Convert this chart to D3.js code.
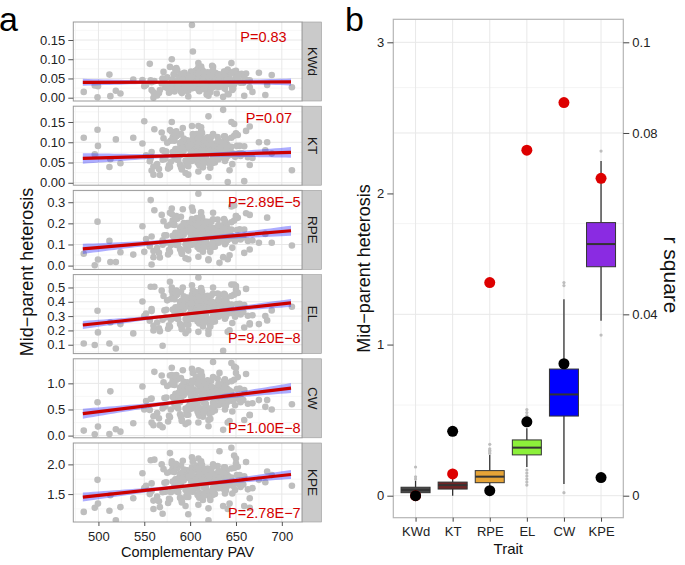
<!DOCTYPE html>
<html><head><meta charset="utf-8">
<script src="https://cdn.jsdelivr.net/npm/d3@7"></script>
<style>body{margin:0;background:#fff}text{font-family:"Liberation Sans",Arial,Helvetica,sans-serif}</style>
</head><body><svg id="c" width="685" height="565"></svg>
<script>
// ---------------- DATA ----------------
const traits = ["KWd","KT","RPE","EL","CW","KPE"];
const pLabels = ["P=0.83","P=0.07","P=2.89E\u22125","P=9.20E\u22128","P=1.00E\u22128","P=2.78E\u22127"];
const pLabelX = [680,686,681,681,681,681];
const pLabelY = [0.146,0.147,0.278,0.115,0.05,1.10];
const yDomains = [[-0.0086,0.1968],[-0.006,0.189],[-0.018,0.356],[0.038,0.590],[-0.042,1.47],[1.03,2.36]];
const yTicks = [[0,0.05,0.1,0.15],[0,0.05,0.1,0.15],[0,0.1,0.2,0.3],[0.1,0.2,0.3,0.4,0.5],[0,0.5,1.0],[1.5,2.0]];
const yTickFmt = [".2f",".2f",".1f",".1f",".1f",".1f"];
const xTicksA = [500,550,600,650,700];

// Complementary PAV (shared by all traits)
const pavX = [484,496,499,499.5,512,513,519,524,538,550,557,558,570,
 711,675,684,689,682,665,
 578,602,603,609,620,625,632,636,641,645,659,598,580,650,560,
 612,585,640,598,571,655,603,627,590,618,
 566,645,608,579,633,596,661,621,587,604,
 552,637,614,593,668,575,626,609,582,649,
 600,619,561,642,589,631,606,573,652,615,
 595,628,558,611,638,584,602,663,623,577,
 597,646,610,569,635,591,617,656,581,624,
 605,548,643,599,629,586,613,659,572,620,
 594,639,607,564,650,588,625,601,578,634,
 616,556,647,592,622,583,611,665,574,630,
 603,641,589,567,619,597,653,608,580,636,
 614,560,644,593,626,585,658,606,576,632,
 600,648,618,570,637,590,621,654,583,612,
 608,592,631,615,584,622,599,641,611,588,
 626,603,617,579,636,595,613,648,606,590,
 620,633,598,611,585,644,616,602,628,594,
 609,623,581,637,600,614,591,651,607,625,
 596,618,640,604,587,629,612,599,634,583,
 621,610,594,645,605,627,589,616,638,601,
 597,630,613,586,643,608,622,593,619,635,
 603,588,626,612,598,647,615,591,632,606,
 617,600,639,593,624,609,582,636,614,596,
 628,604,619,589,642,611,599,625,607,634,
 592,615,603,637,621,587,610,646,598,623,
 613,595,631,606,584,640,617,601,627,609];

const hetKWd = [.015,.032,.001,.030,.060,.004,.018,.011,.047,.030,.045,.020,.050,
 .027,.065,.033,.059,.007,.027,
 .080,.189,.120,.090,.005,.080,.060,.002,.010,.090,.005,.003,.100,.070,.000,
 .042,.031,.055,.018,.067,.039,.025,.048,.061,.034,
 .012,.044,.072,.029,.051,.037,.063,.021,.046,.058,
 .033,.026,.069,.041,.015,.053,.036,.079,.024,.047,
 .060,.030,.043,.009,.056,.038,.070,.027,.050,.035,
 .019,.064,.040,.052,.023,.075,.032,.045,.057,.013,
 .049,.028,.066,.037,.054,.017,.043,.062,.034,.083,
 .026,.046,.058,.039,.011,.071,.031,.053,.044,.022,
 .065,.036,.048,.006,.059,.041,.027,.068,.033,.052,
 .040,.088,.024,.055,.037,.016,.063,.045,.029,.050,
 .034,.073,.042,.020,.057,.038,.061,.025,.047,.032,
 .054,.014,.066,.043,.030,.077,.039,.051,.023,.044,
 .060,.035,.008,.049,.068,.028,.056,.041,.019,.064,
 .038,.052,.027,.061,.044,.019,.057,.035,.071,.048,
 .030,.064,.041,.023,.055,.046,.033,.068,.039,.016,
 .059,.043,.028,.050,.074,.036,.062,.025,.047,.054,
 .021,.066,.040,.031,.058,.045,.012,.053,.037,.070,
 .049,.026,.063,.042,.034,.056,.081,.029,.046,.060,
 .039,.017,.051,.065,.032,.044,.055,.024,.067,.041,
 .053,.036,.072,.028,.048,.060,.014,.043,.057,.035,
 .062,.045,.030,.076,.050,.038,.022,.058,.047,.069,
 .033,.054,.041,.064,.027,.049,.061,.036,.044,.018,
 .056,.031,.066,.046,.039,.059,.025,.052,.071,.037,
 .048,.063,.029,.055,.042,.034,.067,.020,.050,.057,
 .043,.026,.061,.038,.073,.047,.032,.054,.040,.065];
const hetKT = [.111,.070,.131,.091,.039,.058,.107,.048,.111,.152,.060,.030,.080,
 .031,.100,.100,.072,.080,.139,
 .130,.100,.120,.140,.164,.120,.100,.180,.002,.150,.004,.020,.150,.120,.020,
 .072,.058,.095,.041,.110,.066,.083,.050,.120,.077,
 .034,.089,.062,.104,.070,.047,.128,.081,.056,.093,
 .068,.115,.038,.085,.061,.099,.074,.028,.108,.064,
 .087,.052,.132,.071,.045,.096,.079,.059,.118,.067,
 .024,.091,.076,.106,.054,.083,.140,.063,.088,.043,
 .101,.069,.057,.124,.080,.036,.093,.073,.112,.048,
 .065,.097,.031,.084,.071,.117,.055,.090,.078,.014,
 .102,.060,.086,.046,.122,.074,.066,.094,.039,.081,
 .109,.053,.070,.135,.087,.062,.099,.044,.077,.113,
 .058,.092,.068,.019,.084,.105,.073,.050,.126,.063,
 .089,.040,.079,.098,.061,.115,.071,.087,.035,.094,
 .067,.145,.082,.057,.103,.075,.048,.091,.069,.111,
 .074,.092,.058,.105,.081,.047,.099,.066,.121,.085,
 .061,.110,.078,.052,.096,.088,.069,.116,.073,.039,
 .102,.083,.057,.090,.127,.071,.107,.054,.087,.094,
 .049,.113,.076,.063,.100,.086,.033,.091,.068,.119,
 .089,.056,.108,.080,.065,.097,.137,.060,.084,.104,
 .075,.043,.093,.111,.064,.082,.098,.051,.115,.077,
 .094,.070,.123,.059,.088,.103,.037,.079,.099,.067,
 .106,.084,.062,.129,.091,.072,.048,.101,.086,.117,
 .064,.095,.078,.109,.057,.090,.105,.069,.082,.044,
 .097,.061,.112,.085,.073,.101,.053,.093,.120,.071,
 .087,.107,.060,.096,.079,.066,.114,.046,.089,.098,
 .080,.055,.104,.073,.124,.086,.063,.094,.076,.110];
const hetRPE = [.056,.002,.208,.029,.117,.017,.017,.063,.052,.065,.310,.005,.120,
 .095,.108,.227,.108,.150,.240,
 .250,.220,.260,.340,.030,.250,.013,.040,.030,.280,.060,.030,.270,.235,.040,
 .135,.098,.182,.071,.210,.124,.157,.089,.231,.142,
 .060,.171,.113,.195,.130,.081,.248,.150,.104,.176,
 .126,.220,.066,.161,.119,.189,.140,.042,.204,.115,
 .166,.093,.262,.132,.078,.184,.147,.108,.226,.121,
 .035,.175,.138,.199,.101,.155,.275,.117,.168,.074,
 .192,.128,.106,.240,.149,.056,.178,.134,.215,.087,
 .122,.186,.049,.160,.131,.222,.096,.171,.144,.025,
 .197,.110,.163,.083,.235,.139,.120,.181,.064,.152,
 .208,.092,.129,.267,.165,.112,.190,.076,.143,.218,
 .103,.174,.125,.038,.158,.201,.136,.088,.244,.116,
 .169,.069,.148,.187,.109,.224,.133,.164,.053,.179,
 .123,.285,.154,.099,.196,.141,.085,.172,.127,.212,
 .138,.172,.108,.193,.150,.085,.184,.121,.222,.158,
 .112,.203,.145,.096,.178,.162,.127,.213,.135,.070,
 .188,.154,.104,.166,.234,.131,.198,.099,.160,.175,
 .089,.208,.141,.116,.183,.159,.058,.168,.125,.219,
 .164,.103,.199,.148,.119,.179,.252,.110,.156,.192,
 .139,.078,.171,.205,.118,.151,.181,.094,.211,.143,
 .173,.129,.227,.107,.162,.190,.065,.146,.182,.123,
 .196,.155,.114,.238,.168,.133,.087,.186,.159,.216,
 .118,.175,.144,.201,.105,.165,.194,.127,.152,.080,
 .179,.113,.207,.157,.134,.187,.097,.170,.225,.130,
 .161,.198,.111,.177,.146,.122,.211,.084,.163,.181,
 .148,.101,.192,.136,.230,.158,.116,.174,.140,.203];
const hetEL = [.109,.098,.337,.186,.109,.255,.074,.244,.179,.300,.505,.350,.093,
 .365,.244,.270,.340,.300,.250,
 .540,.450,.480,.570,.200,.500,.450,.058,.190,.520,.220,.200,.500,.510,.200,
 .330,.285,.395,.240,.440,.312,.358,.262,.470,.337,
 .215,.380,.300,.420,.325,.250,.490,.348,.278,.388,
 .318,.455,.228,.368,.306,.410,.342,.190,.432,.296,
 .372,.270,.505,.328,.245,.400,.352,.290,.462,.310,
 .180,.384,.335,.425,.282,.362,.515,.302,.376,.235,
 .415,.322,.288,.478,.346,.208,.390,.333,.448,.258,
 .316,.402,.200,.366,.327,.452,.276,.378,.340,.175,
 .428,.298,.370,.255,.485,.338,.314,.396,.225,.355,
 .438,.268,.324,.500,.374,.292,.412,.242,.344,.458,
 .280,.382,.320,.195,.360,.430,.332,.264,.475,.304,
 .370,.232,.350,.408,.287,.445,.328,.364,.212,.392,
 .318,.520,.356,.274,.418,.341,.248,.386,.322,.444,
 .340,.388,.296,.420,.355,.262,.405,.318,.462,.368,
 .302,.435,.350,.275,.398,.374,.322,.450,.334,.235,
 .412,.360,.290,.382,.478,.328,.428,.282,.370,.392,
 .258,.444,.346,.308,.403,.372,.212,.385,.320,.458,
 .378,.288,.430,.352,.312,.396,.496,.298,.366,.418,
 .338,.248,.380,.440,.306,.358,.400,.272,.448,.344,
 .386,.326,.470,.292,.372,.415,.228,.348,.402,.316,
 .425,.362,.300,.486,.384,.330,.255,.408,.370,.455,
 .310,.390,.345,.438,.284,.376,.422,.320,.358,.242,
 .395,.304,.442,.366,.332,.410,.276,.380,.466,.326,
 .372,.424,.294,.392,.350,.314,.448,.252,.376,.404,
 .354,.280,.418,.336,.474,.368,.308,.388,.342,.436];
const hetCW = [.096,.025,.637,.172,.032,.847,.121,.076,.236,.500,.700,.248,.159,
 .600,.680,.680,.500,.550,.400,
 1.15,1.05,1.20,1.25,.30,1.41,1.20,.11,.25,1.39,.30,.25,1.30,1.30,.20,
 .70,.55,.90,.40,1.02,.64,.78,.48,1.10,.72,
 .33,.84,.60,.98,.68,.44,1.18,.76,.52,.88,
 .66,1.05,.36,.81,.62,.95,.73,.25,1.00,.58,
 .83,.47,1.22,.69,.41,.92,.75,.56,1.12,.63,
 .22,.86,.71,1.00,.50,.80,1.28,.61,.85,.38,
 .96,.67,.53,1.15,.74,.30,.89,.70,1.06,.45,
 .65,.94,.28,.82,.69,1.08,.51,.87,.72,.18,
 1.01,.57,.84,.43,1.20,.71,.63,.93,.35,.77,
 1.04,.49,.66,1.25,.86,.59,.97,.39,.73,1.09,
 .54,.88,.64,.20,.80,1.02,.70,.46,1.16,.60,
 .85,.37,.75,.99,.56,1.07,.68,.83,.27,.91,
 .65,1.32,.79,.52,.98,.72,.42,.90,.67,1.04,
 .72,.88,.58,.98,.77,.45,.94,.65,1.10,.83,
 .60,1.03,.75,.50,.91,.85,.67,1.07,.70,.36,
 .96,.79,.55,.87,1.16,.68,1.00,.52,.81,.92,
 .42,1.05,.74,.62,.93,.84,.28,.89,.66,1.12,
 .86,.54,1.01,.78,.63,.90,1.22,.57,.80,.97,
 .73,.38,.88,1.04,.61,.79,.92,.48,1.08,.76,
 .89,.69,1.14,.56,.86,.99,.32,.77,.93,.64,
 1.02,.82,.59,1.18,.89,.71,.44,.95,.84,1.09,
 .61,.90,.76,1.03,.53,.87,.98,.67,.80,.40,
 .92,.58,1.06,.83,.70,.96,.50,.88,1.13,.69,
 .85,1.00,.57,.91,.76,.63,1.08,.46,.86,.94,
 .78,.52,.99,.72,1.15,.84,.60,.90,.74,1.03];
const hetKPE = [1.20,1.27,1.74,1.34,1.22,1.48,1.06,1.28,1.43,1.60,2.07,1.55,1.17,
 1.64,1.74,1.88,1.82,1.70,1.27,
 2.19,1.95,2.05,2.10,1.06,2.00,2.22,1.30,1.25,2.28,1.30,1.16,2.05,2.10,1.25,
 1.68,1.55,1.82,1.45,1.92,1.62,1.74,1.50,1.98,1.70,
 1.38,1.78,1.59,1.88,1.66,1.47,2.04,1.72,1.53,1.80,
 1.64,1.95,1.40,1.76,1.60,1.86,1.69,1.32,1.90,1.57,
 1.77,1.49,2.08,1.67,1.44,1.84,1.71,1.54,1.96,1.61,
 1.30,1.79,1.68,1.89,1.51,1.75,2.12,1.58,1.81,1.42,
 1.87,1.65,1.52,2.00,1.70,1.36,1.83,1.67,1.93,1.48,
 1.63,1.85,1.34,1.77,1.66,1.94,1.50,1.80,1.69,1.26,
 1.91,1.56,1.78,1.46,2.02,1.68,1.61,1.84,1.41,1.73,
 1.92,1.50,1.64,2.06,1.79,1.57,1.88,1.43,1.70,1.97,
 1.54,1.81,1.62,1.28,1.76,1.90,1.67,1.49,2.01,1.59,
 1.78,1.39,1.72,1.87,1.55,1.94,1.66,1.79,1.35,1.83,
 1.63,2.15,1.75,1.53,1.89,1.69,1.46,1.82,1.65,1.95,
 1.70,1.80,1.60,1.88,1.74,1.50,1.85,1.64,1.96,1.77,
 1.62,1.91,1.72,1.53,1.83,1.79,1.66,1.94,1.69,1.42,
 1.86,1.76,1.58,1.81,2.00,1.67,1.89,1.55,1.75,1.84,
 1.47,1.92,1.71,1.63,1.85,1.78,1.38,1.82,1.65,1.97,
 1.79,1.57,1.90,1.73,1.62,1.83,2.05,1.59,1.76,1.87,
 1.70,1.44,1.80,1.93,1.61,1.74,1.84,1.52,1.95,1.72,
 1.81,1.68,1.99,1.56,1.78,1.89,1.40,1.73,1.85,1.64,
 1.90,1.77,1.60,2.02,1.80,1.69,1.48,1.86,1.78,1.94,
 1.63,1.82,1.72,1.91,1.55,1.79,1.88,1.66,1.75,1.45,
 1.84,1.61,1.93,1.77,1.68,1.87,1.54,1.81,1.98,1.67,
 1.78,1.90,1.59,1.83,1.73,1.64,1.95,1.51,1.79,1.85,
 1.74,1.57,1.89,1.70,2.01,1.78,1.62,1.82,1.71,1.92];
const hetByTrait = [hetKWd,hetKT,hetRPE,hetEL,hetCW,hetKPE];

// fitted regression line (value at pavFitRange[0], pavFitRange[1]) and CI half-widths
const pavFitRange = [483,710];
const fitStart = [0.040,0.060,0.079,0.238,0.42,1.45];
const fitEnd   = [0.041,0.075,0.165,0.392,0.91,1.83];
const ciEnd    = [0.009,0.013,0.024,0.028,0.095,0.076];
const ciMid    = [0.003,0.004,0.008,0.009,0.030,0.025];

// panel b: box statistics [lower whisker, q1, median, q3, upper whisker]
const boxLow = [0.0,0.0,0.0,0.19,0.077,1.158];
const boxQ1  = [0.02,0.044,0.086,0.27,0.527,1.515];
const boxMed = [0.038,0.07,0.126,0.318,0.67,1.665];
const boxQ3  = [0.056,0.09,0.166,0.369,0.838,1.807];
const boxHigh= [0.10,0.118,0.27,0.446,1.30,2.215];
const boxOutliers = [[0.11,0.125,0.19],[0.13,0.15,0.17],[0.28,0.29,0.30,0.31,0.34],
  [0.07,0.09,0.11,0.13,0.15,0.17,0.47,0.50,0.53,0.55,0.57],[0.02,1.39,1.41],[1.063,2.28]];
const rSqRed   = [0.0,0.0048,0.047,0.0762,0.0867,0.070];
const rSqBlack = [0.0,0.0142,0.0011,0.0163,0.0291,0.004];
const leftTicksB = [0,1,2,3];
const rightTicksB = [0,0.04,0.08,0.1];
const rightMinorB = [0.02,0.06,0.09];
const boxColors = ["#474747","#702424","#e6a437","#8cf03a","#0000ff","#8a2be2"];

// ---------------- DRAW ----------------
const svg = d3.select("#c");
svg.append("rect").attr("width",685).attr("height",565).attr("fill","#fff");
const defs = svg.append("defs");

// ===== Panel a =====
const A = {left:73.3,right:302,top:22,h:79,step:84.2,stripR:321.5};
const xA = d3.scaleLinear().domain([472.6,722]).range([A.left,A.right]);
const xMinor = [];
for (let k=0;k<xTicksA.length+1;k++){ const v = xTicksA[0]-25+50*k; if(v>xA.domain()[0]&&v<xA.domain()[1]) xMinor.push(v); }

traits.forEach((t,i)=>{
  const top = A.top + i*A.step, bot = top + A.h;
  const y = d3.scaleLinear().domain(yDomains[i]).range([bot,top]);
  const g = svg.append("g");
  const tk = yTicks[i], st = tk[1]-tk[0];
  const yMinor = [];
  for (let k=-1;k<tk.length;k++){ const v = tk[0]+st*(k+0.5); if(v>yDomains[i][0]&&v<yDomains[i][1]) yMinor.push(v); }
  g.append("rect").attr("x",A.left).attr("y",top).attr("width",A.right-A.left).attr("height",A.h).attr("fill","#fff");
  g.selectAll(".ymn").data(yMinor).join("line").attr("x1",A.left).attr("x2",A.right)
    .attr("y1",d=>y(d)).attr("y2",d=>y(d)).attr("stroke","#f5f5f5").attr("stroke-width",0.8);
  g.selectAll(".xmn").data(xMinor).join("line").attr("y1",top).attr("y2",bot)
    .attr("x1",d=>xA(d)).attr("x2",d=>xA(d)).attr("stroke","#f5f5f5").attr("stroke-width",0.8);
  g.selectAll(".ymj").data(tk).join("line").attr("x1",A.left).attr("x2",A.right)
    .attr("y1",d=>y(d)).attr("y2",d=>y(d)).attr("stroke","#e8e8e8").attr("stroke-width",1);
  g.selectAll(".xmj").data(xTicksA).join("line").attr("y1",top).attr("y2",bot)
    .attr("x1",d=>xA(d)).attr("x2",d=>xA(d)).attr("stroke","#e8e8e8").attr("stroke-width",1);

  defs.append("clipPath").attr("id","clipA"+i).append("rect")
    .attr("x",A.left).attr("y",top).attr("width",A.right-A.left).attr("height",A.h);
  const inner = g.append("g").attr("clip-path",`url(#clipA${i})`);
  const pts = pavX.map((x,j)=>[x,hetByTrait[i][j]]);
  inner.selectAll("circle").data(pts).join("circle")
    .attr("cx",d=>xA(d[0])).attr("cy",d=>y(d[1])).attr("r",3.3).attr("fill","#bebebe");

  // CI ribbon & fitted line
  const x0 = pavFitRange[0], x1 = pavFitRange[1], xc = (x0+x1)/2;
  const xs = d3.range(41).map(k=>x0+(x1-x0)*k/40);
  const fit = x => fitStart[i] + (fitEnd[i]-fitStart[i])*(x-x0)/(x1-x0);
  const hw = x => Math.sqrt(ciMid[i]**2 + (ciEnd[i]**2-ciMid[i]**2)*((x-xc)/(x1-xc))**2);
  const area = d3.area().x(d=>xA(d)).y0(d=>y(fit(d)-hw(d))).y1(d=>y(fit(d)+hw(d)));
  inner.append("path").attr("d",area(xs)).attr("fill","#3b3bff").attr("fill-opacity",0.42);
  inner.append("line").attr("x1",xA(x0)).attr("x2",xA(x1)).attr("y1",y(fit(x0))).attr("y2",y(fit(x1)))
    .attr("stroke","#cc0000").attr("stroke-width",3.2);

  inner.append("text").attr("x",xA(pLabelX[i])).attr("y",y(pLabelY[i])).attr("text-anchor","middle")
    .attr("font-size",14.5).attr("fill","#d40000").text(pLabels[i]);

  // border
  g.append("rect").attr("x",A.left).attr("y",top).attr("width",A.right-A.left).attr("height",A.h)
    .attr("fill","none").attr("stroke","#9a9a9a").attr("stroke-width",1);
  // strip
  g.append("rect").attr("x",A.right+0.5).attr("y",top).attr("width",A.stripR-A.right-0.5).attr("height",A.h)
    .attr("fill","#cacaca").attr("stroke","#9a9a9a").attr("stroke-width",0.6);
  g.append("text").attr("transform",`translate(${(A.right+A.stripR)/2+0.5},${top+A.h/2}) rotate(90)`)
    .attr("text-anchor","middle").attr("dy","0.35em").attr("font-size",13.5).attr("fill","#1a1a1a").text(t);
  // y axis
  const ax = g.append("g").attr("transform",`translate(${A.left},0)`)
    .call(d3.axisLeft(y).tickValues(tk).tickSize(5).tickPadding(3).tickFormat(d3.format(yTickFmt[i])));
  ax.select(".domain").remove();
  ax.selectAll("line").attr("stroke","#555");
  ax.selectAll("text").attr("font-size",13).attr("fill","#222").attr("font-family","Liberation Sans, Arial, sans-serif");
  if (i===traits.length-1){
    const bx = g.append("g").attr("transform",`translate(0,${bot})`)
      .call(d3.axisBottom(xA).tickValues(xTicksA).tickSize(4).tickPadding(6));
    bx.select(".domain").remove();
    bx.selectAll("line").attr("stroke","#555");
    bx.selectAll("text").attr("font-size",13).attr("fill","#222").attr("font-family","Liberation Sans, Arial, sans-serif");
  }
});
svg.append("text").attr("x",(A.left+A.right)/2).attr("y",557).attr("text-anchor","middle")
  .attr("font-size",14.5).attr("fill","#111").text("Complementary PAV");
svg.append("text").attr("transform",`translate(33,${(A.top+A.top+5*A.step+A.h)/2}) rotate(-90)`)
  .attr("text-anchor","middle").attr("font-size",18).attr("fill","#111").text("Mid\u2212parent heterosis");
svg.append("text").attr("x",-1).attr("y",31).attr("font-size",34).attr("fill","#000").text("a");

// ===== Panel b =====
const B = {left:393.3,right:623.3,top:19.3,bottom:517.7};
const xB = d3.scalePoint().domain(traits).range([B.left,B.right]).padding(0.6);
const yB = d3.scaleLinear().domain([0,3]).range([495.7,42.3]);
const rB = d3.scaleLinear().domain([0,0.1]).range([495.7,42.3]);
const gb = svg.append("g");
gb.append("rect").attr("x",B.left).attr("y",B.top).attr("width",B.right-B.left).attr("height",B.bottom-B.top).attr("fill","#fff");
gb.selectAll(".rmn").data(rightMinorB).join("line").attr("x1",B.left).attr("x2",B.right)
  .attr("y1",d=>rB(d)).attr("y2",d=>rB(d)).attr("stroke","#f4f4f4").attr("stroke-width",1);
gb.selectAll(".rmj").data(rightTicksB).join("line").attr("x1",B.left).attr("x2",B.right)
  .attr("y1",d=>rB(d)).attr("y2",d=>rB(d)).attr("stroke","#e8e8e8").attr("stroke-width",1);
gb.selectAll(".cmj").data(traits).join("line").attr("y1",B.top).attr("y2",B.bottom)
  .attr("x1",d=>xB(d)).attr("x2",d=>xB(d)).attr("stroke","#e8e8e8").attr("stroke-width",1);

const bw = 29;
traits.forEach((t,i)=>{
  const cx = xB(t);
  gb.append("line").attr("x1",cx).attr("x2",cx).attr("y1",yB(boxHigh[i])).attr("y2",yB(boxQ3[i]))
    .attr("stroke","#333").attr("stroke-width",1.3);
  gb.append("line").attr("x1",cx).attr("x2",cx).attr("y1",yB(boxQ1[i])).attr("y2",yB(boxLow[i]))
    .attr("stroke","#333").attr("stroke-width",1.3);
  gb.selectAll(".o"+i).data(boxOutliers[i]).join("circle").attr("cx",cx).attr("cy",d=>yB(d))
    .attr("r",1.6).attr("fill","#bdbdbd");
  gb.append("rect").attr("x",cx-bw/2).attr("y",yB(boxQ3[i])).attr("width",bw)
    .attr("height",yB(boxQ1[i])-yB(boxQ3[i])).attr("fill",boxColors[i]).attr("stroke","#333").attr("stroke-width",1);
  gb.append("line").attr("x1",cx-bw/2).attr("x2",cx+bw/2).attr("y1",yB(boxMed[i])).attr("y2",yB(boxMed[i]))
    .attr("stroke","#333").attr("stroke-width",2);
});
gb.selectAll(".red").data(traits).join("circle").attr("cx",d=>xB(d)).attr("cy",(d,i)=>rB(rSqRed[i]))
  .attr("r",5.5).attr("fill","#dd0000");
gb.selectAll(".blk").data(traits).join("circle").attr("cx",d=>xB(d)).attr("cy",(d,i)=>rB(rSqBlack[i]))
  .attr("r",5.5).attr("fill","#000");
gb.append("rect").attr("x",B.left).attr("y",B.top).attr("width",B.right-B.left).attr("height",B.bottom-B.top)
  .attr("fill","none").attr("stroke","#b5b5b5").attr("stroke-width",1.2);

function styleAxis(a){
  a.select(".domain").remove();
  a.selectAll("line").attr("stroke","#444");
  a.selectAll("text").attr("font-size",13).attr("fill","#222").attr("font-family","Liberation Sans, Arial, sans-serif");
}
styleAxis(svg.append("g").attr("transform",`translate(${B.left},0)`)
  .call(d3.axisLeft(yB).tickValues(leftTicksB).tickSize(6).tickPadding(3).tickFormat(d3.format("d"))));
styleAxis(svg.append("g").attr("transform",`translate(${B.right},0)`)
  .call(d3.axisRight(rB).tickValues(rightTicksB).tickSize(6).tickPadding(3).tickFormat(d=>String(d))));
styleAxis(svg.append("g").attr("transform",`translate(0,${B.bottom})`)
  .call(d3.axisBottom(xB).tickSize(4).tickPadding(5)));

svg.append("text").attr("x",(B.left+B.right)/2).attr("y",554).attr("text-anchor","middle")
  .attr("font-size",15).attr("fill","#111").text("Trait");
svg.append("text").attr("transform",`translate(369.5,${(B.top+B.bottom)/2}) rotate(-90)`)
  .attr("text-anchor","middle").attr("font-size",18).attr("fill","#111").text("Mid\u2212parent heterosis");
svg.append("text").attr("transform",`translate(664,275) rotate(90)`)
  .attr("text-anchor","middle").attr("font-size",21).attr("fill","#111").text("r square");
svg.append("text").attr("x",345).attr("y",31).attr("font-size",34).attr("fill","#000").text("b");
</script></body></html>
